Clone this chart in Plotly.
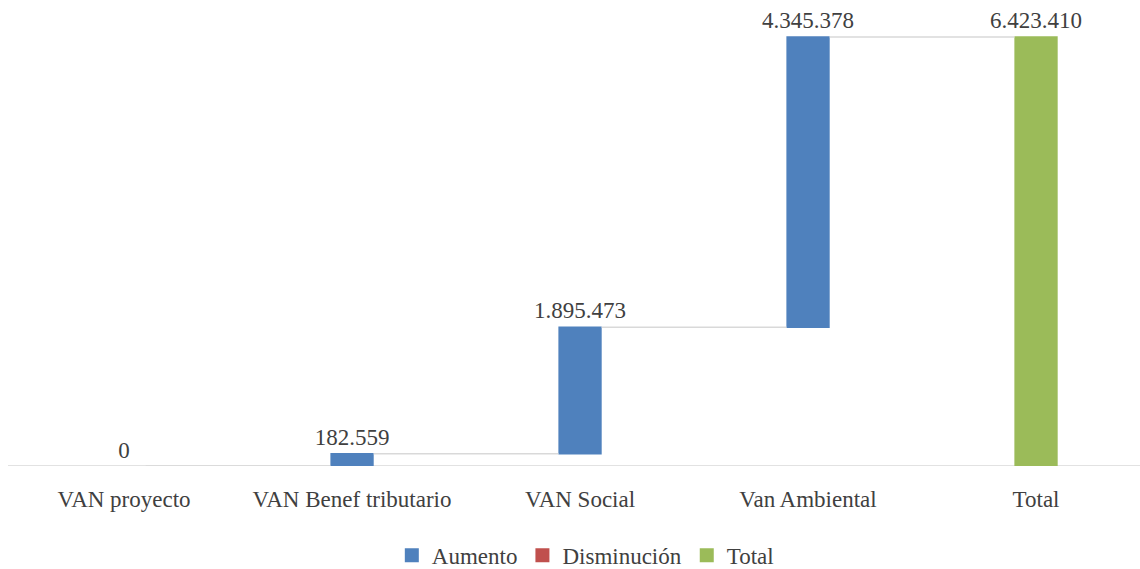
import plotly.graph_objects as go

categories = ["VAN proyecto", "VAN Benef tributario", "VAN Social", "Van Ambiental", "Total"]
values = [0, 182559, 1895473, 4345378, 6423410]
measures = ["relative", "relative", "relative", "relative", "total"]
legend_names = ["Aumento", "Disminución", "Total"]
legend_colors = ["#4F81BD", "#C0504D", "#9BBB59"]

labels = [f"{v:,}".replace(",", ".") for v in values]

FONT = "'Liberation Serif', 'DejaVu Serif', 'Times New Roman', Times, serif"
TXT = "#404040"

fig = go.Figure()
fig.add_trace(go.Waterfall(
    x=categories,
    y=values,
    measure=measures,
    text=labels,
    textposition="outside",
    constraintext="none",
    textfont=dict(family=FONT, size=23, color=TXT),
    cliponaxis=False,
    increasing=dict(marker=dict(color=legend_colors[0], line=dict(width=0))),
    decreasing=dict(marker=dict(color=legend_colors[1], line=dict(width=0))),
    totals=dict(marker=dict(color=legend_colors[2], line=dict(width=0))),
    connector=dict(mode="between", line=dict(color="#D9D9D9", width=1.5)),
    width=0.19,
    showlegend=False,
    hoverinfo="skip",
))

for name, color in zip(legend_names, legend_colors):
    fig.add_trace(go.Scatter(
        x=[None], y=[None], mode="markers", name=name,
        marker=dict(symbol="square", size=14, color=color),
    ))

y_top = 6423410 * 446 / 429

fig.update_layout(
    width=1140, height=569,
    margin=dict(l=8, r=0, t=20, b=103, autoexpand=False),
    paper_bgcolor="white", plot_bgcolor="white",
    font=dict(family=FONT, size=23, color=TXT),
    showlegend=True,
    legend=dict(
        orientation="h", x=0.51, xanchor="center", y=-0.2, yanchor="middle",
        font=dict(family=FONT, size=23, color=TXT),
        itemwidth=30, traceorder="normal",
    ),
    xaxis=dict(
        range=[-0.509, 4.456], automargin=False,
        showgrid=False, zeroline=False,
        showline=False,
        ticks="outside", ticklen=12, tickcolor="rgba(0,0,0,0)",
        tickfont=dict(family=FONT, size=23, color=TXT),
    ),
    yaxis=dict(
        range=[0, y_top], visible=False, showgrid=False, zeroline=False,
        automargin=False,
    ),
    shapes=[dict(type="line", xref="paper", yref="y", x0=0, x1=1, y0=0, y1=0,
                 line=dict(color="#D9D9D9", width=1.5), layer="below")],
)

fig.write_html("out.html")
